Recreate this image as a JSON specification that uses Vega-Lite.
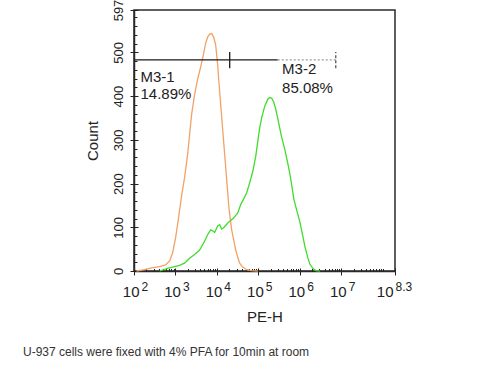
{
  "$schema": "https://vega.github.io/schema/vega-lite/v6.json",
  "width": 261,
  "height": 261,
  "autosize": {"type": "none"},
  "padding": {"left": 134, "top": 10, "right": 96, "bottom": 99},
  "background": "white",
  "title": {
    "text": "U-937 cells were fixed with 4% PFA for 10min at room",
    "orient": "bottom",
    "anchor": "start",
    "frame": "group",
    "dx": -111,
    "offset": 23,
    "fontSize": 12,
    "fontWeight": "normal",
    "font": "Liberation Sans",
    "color": "#333333"
  },
  "config": {
    "font": "Liberation Sans",
    "view": {"stroke": "#2a2a2a", "strokeWidth": 1.5},
    "axis": {"grid": false, "labelFlush": false, "labelOverlap": false, "labelBound": false, "tickColor": "#222222", "tickWidth": 1, "labelColor": "#222222", "titleColor": "#222222", "titleFontWeight": "normal", "domainColor": "#2a2a2a", "domainWidth": 1.5}
  },
  "datasets": {
    "curves": [
      {"sample": "isotype control", "pe_h": 115, "count": 0},
      {"sample": "isotype control", "pe_h": 179, "count": 3},
      {"sample": "isotype control", "pe_h": 265, "count": 7},
      {"sample": "isotype control", "pe_h": 414, "count": 10},
      {"sample": "isotype control", "pe_h": 578, "count": 14},
      {"sample": "isotype control", "pe_h": 723, "count": 23},
      {"sample": "isotype control", "pe_h": 853, "count": 41},
      {"sample": "isotype control", "pe_h": 1009, "count": 76},
      {"sample": "isotype control", "pe_h": 1191, "count": 122},
      {"sample": "isotype control", "pe_h": 1409, "count": 172},
      {"sample": "isotype control", "pe_h": 1663, "count": 214},
      {"sample": "isotype control", "pe_h": 1968, "count": 266},
      {"sample": "isotype control", "pe_h": 2198, "count": 312},
      {"sample": "isotype control", "pe_h": 2460, "count": 358},
      {"sample": "isotype control", "pe_h": 2904, "count": 404},
      {"sample": "isotype control", "pe_h": 3436, "count": 439},
      {"sample": "isotype control", "pe_h": 4055, "count": 466},
      {"sample": "isotype control", "pe_h": 4797, "count": 498},
      {"sample": "isotype control", "pe_h": 5358, "count": 521},
      {"sample": "isotype control", "pe_h": 5998, "count": 535},
      {"sample": "isotype control", "pe_h": 6699, "count": 542},
      {"sample": "isotype control", "pe_h": 7482, "count": 543},
      {"sample": "isotype control", "pe_h": 8375, "count": 535},
      {"sample": "isotype control", "pe_h": 9354, "count": 517},
      {"sample": "isotype control", "pe_h": 10447, "count": 473},
      {"sample": "isotype control", "pe_h": 11066, "count": 439},
      {"sample": "isotype control", "pe_h": 12359, "count": 381},
      {"sample": "isotype control", "pe_h": 13804, "count": 324},
      {"sample": "isotype control", "pe_h": 15453, "count": 266},
      {"sample": "isotype control", "pe_h": 17258, "count": 209},
      {"sample": "isotype control", "pe_h": 19275, "count": 152},
      {"sample": "isotype control", "pe_h": 20417, "count": 129},
      {"sample": "isotype control", "pe_h": 22803, "count": 94},
      {"sample": "isotype control", "pe_h": 25468, "count": 71},
      {"sample": "isotype control", "pe_h": 28510, "count": 48},
      {"sample": "isotype control", "pe_h": 31842, "count": 32},
      {"sample": "isotype control", "pe_h": 35563, "count": 18},
      {"sample": "isotype control", "pe_h": 42073, "count": 9},
      {"sample": "isotype control", "pe_h": 52602, "count": 3},
      {"sample": "isotype control", "pe_h": 69502, "count": 1},
      {"sample": "isotype control", "pe_h": 97051, "count": 0},
      {"sample": "U-937", "pe_h": 414, "count": 0},
      {"sample": "U-937", "pe_h": 646, "count": 6},
      {"sample": "U-937", "pe_h": 953, "count": 10},
      {"sample": "U-937", "pe_h": 1259, "count": 13},
      {"sample": "U-937", "pe_h": 1663, "count": 18},
      {"sample": "U-937", "pe_h": 2198, "count": 29},
      {"sample": "U-937", "pe_h": 2904, "count": 38},
      {"sample": "U-937", "pe_h": 3837, "count": 48},
      {"sample": "U-937", "pe_h": 4797, "count": 64},
      {"sample": "U-937", "pe_h": 5998, "count": 83},
      {"sample": "U-937", "pe_h": 7079, "count": 94},
      {"sample": "U-937", "pe_h": 7907, "count": 92},
      {"sample": "U-937", "pe_h": 8851, "count": 88},
      {"sample": "U-937", "pe_h": 10447, "count": 103},
      {"sample": "U-937", "pe_h": 11695, "count": 106},
      {"sample": "U-937", "pe_h": 13062, "count": 96},
      {"sample": "U-937", "pe_h": 14588, "count": 99},
      {"sample": "U-937", "pe_h": 17258, "count": 107},
      {"sample": "U-937", "pe_h": 20417, "count": 114},
      {"sample": "U-937", "pe_h": 25468, "count": 121},
      {"sample": "U-937", "pe_h": 31842, "count": 133},
      {"sample": "U-937", "pe_h": 37670, "count": 152},
      {"sample": "U-937", "pe_h": 44463, "count": 165},
      {"sample": "U-937", "pe_h": 52602, "count": 179},
      {"sample": "U-937", "pe_h": 62087, "count": 202},
      {"sample": "U-937", "pe_h": 73451, "count": 227},
      {"sample": "U-937", "pe_h": 86696, "count": 262},
      {"sample": "U-937", "pe_h": 97051, "count": 296},
      {"sample": "U-937", "pe_h": 108393, "count": 328},
      {"sample": "U-937", "pe_h": 121060, "count": 351},
      {"sample": "U-937", "pe_h": 143219, "count": 377},
      {"sample": "U-937", "pe_h": 169434, "count": 393},
      {"sample": "U-937", "pe_h": 189234, "count": 397},
      {"sample": "U-937", "pe_h": 211349, "count": 395},
      {"sample": "U-937", "pe_h": 236592, "count": 386},
      {"sample": "U-937", "pe_h": 264241, "count": 370},
      {"sample": "U-937", "pe_h": 295121, "count": 349},
      {"sample": "U-937", "pe_h": 330370, "count": 326},
      {"sample": "U-937", "pe_h": 368978, "count": 305},
      {"sample": "U-937", "pe_h": 436516, "count": 278},
      {"sample": "U-937", "pe_h": 515229, "count": 246},
      {"sample": "U-937", "pe_h": 576766, "count": 223},
      {"sample": "U-937", "pe_h": 644169, "count": 195},
      {"sample": "U-937", "pe_h": 719449, "count": 165},
      {"sample": "U-937", "pe_h": 851138, "count": 138},
      {"sample": "U-937", "pe_h": 1004616, "count": 113},
      {"sample": "U-937", "pe_h": 1188502, "count": 80},
      {"sample": "U-937", "pe_h": 1327394, "count": 57},
      {"sample": "U-937", "pe_h": 1570363, "count": 30},
      {"sample": "U-937", "pe_h": 1753880, "count": 16},
      {"sample": "U-937", "pe_h": 2074914, "count": 6},
      {"sample": "U-937", "pe_h": 2449063, "count": 1},
      {"sample": "U-937", "pe_h": 3062079, "count": 0}
    ],
    "gates": [
      {"gate": "M3-1", "from": 100, "to": 20417, "count": 483, "visible": "full"},
      {"gate": "M3-2", "from": 20417, "to": 295121, "count": 483, "visible": "full"},
      {"gate": "M3-2", "from": 295121, "to": 7413102, "count": 483, "visible": "faint"}
    ],
    "gateEnds": [
      {"gate": "M3-1/M3-2", "pe_h": 20417, "lo": 464, "hi": 501, "visible": "full"},
      {"gate": "M3-2", "pe_h": 7413102, "lo": 464, "hi": 501, "visible": "end"}
    ],
    "notes": [
      {"label": "M3-1", "pe_h": 143.5, "count": 433},
      {"label": "14.89%", "pe_h": 143.5, "count": 393},
      {"label": "M3-2", "pe_h": 375000, "count": 450},
      {"label": "85.08%", "pe_h": 375000, "count": 408}
    ]
  },
  "resolve": {"axis": {"x": "independent", "y": "independent"}},
  "layer": [
    {
      "data": {"name": "curves"},
      "mark": {"type": "line", "strokeWidth": 1.3},
      "encoding": {
        "x": {
          "field": "pe_h", "type": "quantitative",
          "scale": {"type": "log", "domain": [100, 199526231], "nice": false},
          "axis": {
            "orient": "bottom",
            "values": [100, 1000, 10000, 100000, 1000000, 10000000, 199526231],
            "labelExpr": "'10'",
            "labelFontSize": 15,
            "labelAlign": "right",
            "labelBaseline": "alphabetic",
            "labelPadding": 21,
            "labelOffset": {"condition": {"test": "datum.value > 150000000", "value": -2}, "value": 5},
            "tickSize": 4,
            "domain": true,
            "title": "PE-H",
            "titleFontSize": 15,
            "titlePadding": 10
          }
        },
        "y": {
          "field": "count", "type": "quantitative",
          "scale": {"domain": [0, 597], "nice": false},
          "axis": {
            "orient": "left",
            "values": [0, 100, 200, 300, 400, 500, 597],
            "labelAngle": 270,
            "labelAlign": "center",
            "labelBaseline": "alphabetic",
            "labelFontSize": 13,
            "labelPadding": 7.5,
            "tickSize": 4,
            "domain": true,
            "title": "Count",
            "titleFontSize": 15,
            "titlePadding": 12
          }
        },
        "color": {
          "field": "sample", "type": "nominal",
          "scale": {"domain": ["isotype control", "U-937"], "range": ["#f2a266", "#3fdc2c"]},
          "legend": null
        }
      }
    },
    {
      "data": {"name": "gates"},
      "mark": {"type": "rule", "strokeWidth": 1.3},
      "encoding": {
        "x": {
          "field": "from", "type": "quantitative",
          "axis": {"orient": "bottom", "values": [100, 1000, 10000, 100000, 1000000, 10000000, 199526231], "labels": false, "domain": false, "tickSize": -3, "title": null}
        },
        "x2": {"field": "to"},
        "y": {
          "field": "count", "type": "quantitative",
          "axis": {"orient": "left", "values": [0, 100, 200, 300, 400, 500, 597], "labels": false, "domain": false, "tickSize": -4, "title": null}
        },
        "stroke": {"field": "visible", "type": "nominal", "scale": {"domain": ["full", "faint", "end"], "range": ["#1a1a1a", "#9a9a9a", "#555555"]}, "legend": null},
        "strokeDash": {"field": "visible", "type": "nominal", "scale": {"domain": ["full", "faint", "end"], "range": [[1, 0], [2, 2], [3, 2]]}, "legend": null}
      }
    },
    {
      "data": {"name": "gateEnds"},
      "mark": {"type": "rule", "strokeWidth": 1.3},
      "encoding": {
        "x": {
          "field": "pe_h", "type": "quantitative",
          "axis": {"orient": "bottom", "values": [200, 300, 400, 500, 600, 700, 800, 900, 2000, 3000, 4000, 5000, 6000, 7000, 8000, 9000, 20000, 30000, 40000, 50000, 60000, 70000, 80000, 90000, 200000, 300000, 400000, 500000, 600000, 700000, 800000, 900000, 2000000, 3000000, 4000000, 5000000, 6000000, 7000000, 8000000, 9000000, 20000000, 30000000, 40000000, 50000000, 60000000, 70000000, 80000000, 90000000, 100000000], "labels": false, "domain": false, "tickSize": -2.5, "title": null}
        },
        "y": {
          "field": "lo", "type": "quantitative",
          "axis": {"orient": "left", "values": [20, 40, 60, 80, 120, 140, 160, 180, 220, 240, 260, 280, 320, 340, 360, 380, 420, 440, 460, 480, 520, 540, 560, 580], "labels": false, "domain": false, "tickSize": -3, "title": null}
        },
        "y2": {"field": "hi"},
        "stroke": {"field": "visible", "type": "nominal", "legend": null},
        "strokeDash": {"field": "visible", "type": "nominal", "legend": null}
      }
    },
    {
      "data": {"name": "notes"},
      "mark": {"type": "text", "align": "left", "baseline": "alphabetic", "fontSize": 15, "color": "#222222"},
      "encoding": {
        "x": {
          "field": "pe_h", "type": "quantitative",
          "axis": {"orient": "bottom", "values": [100, 1000, 10000, 100000, 1000000, 10000000, 199526231], "ticks": false, "domain": false, "labelExpr": "datum.value > 150000000 ? '8.3' : '' + round(log(datum.value) / LN10)", "labelFontSize": 12, "labelAlign": "left", "labelBaseline": "alphabetic", "labelPadding": 19, "labelOffset": {"condition": {"test": "datum.value > 150000000", "value": 0}, "value": 7}, "title": null}
        },
        "y": {"field": "count", "type": "quantitative", "axis": null},
        "text": {"field": "label"}
      }
    }
  ]
}
